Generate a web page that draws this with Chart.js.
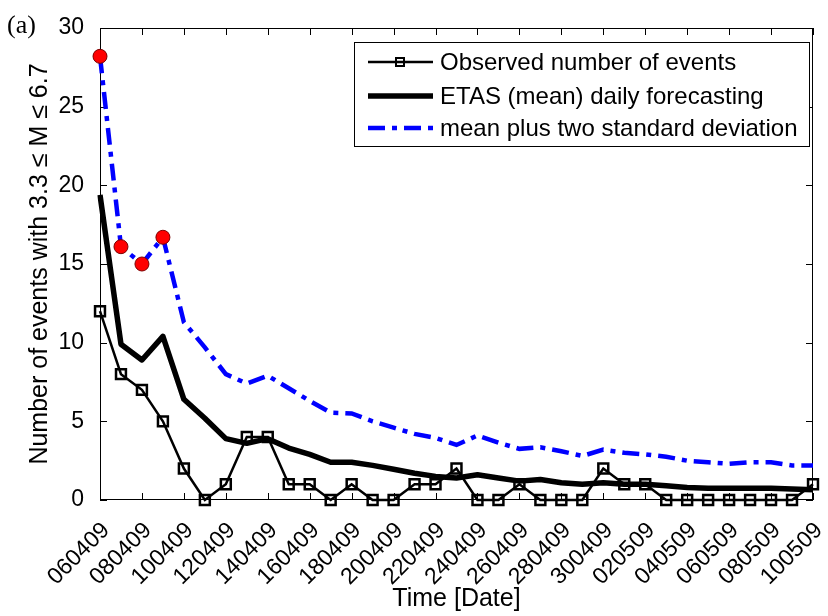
<!DOCTYPE html>
<html>
<head>
<meta charset="utf-8">
<script src="https://cdn.jsdelivr.net/npm/chart.js@4.4.0/dist/chart.umd.min.js"></script>
<style>
  html, body { margin: 0; padding: 0; background: #fff; }
  #wrap { width: 828px; height: 616px; position: relative; }
</style>
</head>
<body>
<div id="wrap"><canvas id="myChart" width="828" height="616"></canvas></div>
<script>
// dates ddmmyy, one per day
var dates = ['060409', '070409', '080409', '090409', '100409', '110409', '120409', '130409', '140409',
  '150409', '160409', '170409', '180409', '190409', '200409', '210409', '220409', '230409', '240409',
  '250409', '260409', '270409', '280409', '290409', '300409', '010509', '020509', '030509', '040509',
  '050509', '060509', '070509', '080509', '090509', '100509'];

var observed = [12, 8, 7, 5, 2, 0, 1, 4, 4, 1, 1, 0, 1, 0, 0, 1, 1, 2, 0, 0, 1, 0, 0, 0, 2, 1, 1,
  0, 0, 0, 0, 0, 0, 0, 1];

var etasMean = [19.4, 9.9, 8.9, 10.4, 6.4, 5.2, 3.9, 3.6, 3.9, 3.3, 2.9, 2.4, 2.4, 2.2, 1.95, 1.7,
  1.5, 1.4, 1.6, 1.4, 1.2, 1.3, 1.1, 1.0, 1.1, 1.0, 1.0, 0.9, 0.8, 0.75, 0.75, 0.75, 0.75, 0.7, 0.65];

var meanPlus2sd = [28.2, 16.1, 15.0, 16.7, 11.3, 9.7, 8.0, 7.4, 7.9, 7.1, 6.3, 5.55, 5.5, 5.0, 4.6,
  4.2, 3.95, 3.5, 4.1, 3.65, 3.25, 3.35, 3.1, 2.8, 3.2, 3.0, 2.9, 2.75, 2.5, 2.4, 2.3, 2.4, 2.4, 2.2, 2.2];

// days marked with red circles on the upper curve
var flaggedDays = [0, 1, 2, 3];

var yTicks = [0, 5, 10, 15, 20, 25, 30];

var FONT = '"Liberation Sans", Arial, Helvetica, sans-serif';

// box, inward ticks and legend, drawn the MATLAB way
var frame = {
  id: 'frame',
  beforeDatasetsDraw: function (chart) {
    var ctx = chart.ctx, a = chart.chartArea;
    var xs = chart.scales.x, ys = chart.scales.y;
    ctx.save();
    ctx.strokeStyle = '#000';
    ctx.lineWidth = 1;
    ctx.strokeRect(a.left + 0.5, a.top + 0.5, a.right - a.left - 1, a.bottom - a.top - 1);
    ctx.beginPath();
    for (var i = 0; i < dates.length; i += 2) {
      var px = Math.round(xs.getPixelForValue(i)) + 0.5;
      ctx.moveTo(px, a.bottom); ctx.lineTo(px, a.bottom - 7);
      ctx.moveTo(px, a.top); ctx.lineTo(px, a.top + 7);
    }
    yTicks.forEach(function (v) {
      var py = Math.round(ys.getPixelForValue(v)) + 0.5;
      ctx.moveTo(a.left, py); ctx.lineTo(a.left + 7, py);
      ctx.moveTo(a.right, py); ctx.lineTo(a.right - 7, py);
    });
    ctx.stroke();
    ctx.restore();
  },
  afterDraw: function (chart) {
    var ctx = chart.ctx;
    ctx.save();
    // panel letter
    ctx.fillStyle = '#000';
    ctx.font = '26px "Liberation Serif", "Times New Roman", serif';
    ctx.textBaseline = 'alphabetic';
    ctx.fillText('(a)', 7, 33);

    // legend
    var bx = 354, by = 42, bw = 455, bh = 104;
    ctx.fillStyle = '#fff';
    ctx.fillRect(bx, by, bw, bh);
    ctx.strokeStyle = '#000';
    ctx.lineWidth = 1;
    ctx.strokeRect(bx + 0.5, by + 0.5, bw, bh);
    var rows = [62, 96, 128];
    chart.data.datasets.forEach(function (ds, i) {
      var y = rows[i];
      ctx.save();
      ctx.strokeStyle = ds.borderColor;
      ctx.lineWidth = ds.borderWidth;
      ctx.setLineDash(ds.borderDash || []);
      ctx.beginPath();
      ctx.moveTo(368, y); ctx.lineTo(433, y);
      ctx.stroke();
      ctx.setLineDash([]);
      if (i === 0) {
        ctx.fillStyle = '#fff';
        ctx.lineWidth = 2;
        ctx.strokeRect(396, y - 4, 8, 8);
      }
      ctx.restore();
      ctx.fillStyle = '#000';
      ctx.font = '24px ' + FONT;
      ctx.textBaseline = 'middle';
      ctx.fillText(ds.label, 440, y + 1);
    });
    ctx.restore();
  }
};

var ctx = document.getElementById('myChart').getContext('2d');
var myChart = new Chart(ctx, {
  type: 'line',
  data: {
    labels: dates,
    datasets: [
      {
        label: 'Observed number of events',
        data: observed,
        borderColor: '#000',
        borderWidth: 2.5,
        pointStyle: 'rect',
        pointRadius: 7,
        pointBorderWidth: 2.5,
        pointBorderColor: '#000',
        pointBackgroundColor: 'rgba(0,0,0,0)',
        tension: 0,
        clip: false,
        order: 1
      },
      {
        label: 'ETAS (mean) daily forecasting',
        data: etasMean,
        borderColor: '#000',
        borderWidth: 5.5,
        pointRadius: 0,
        tension: 0,
        borderJoinStyle: 'round',
        order: 2
      },
      {
        label: 'mean plus two standard deviation',
        data: meanPlus2sd,
        borderColor: '#0000ff',
        borderWidth: 4.5,
        borderDash: [17, 7, 5, 7],
        pointRadius: function (c) { return flaggedDays.indexOf(c.dataIndex) >= 0 ? 7 : 0; },
        pointBackgroundColor: '#ff0000',
        pointBorderColor: '#7a0000',
        pointBorderWidth: 1,
        tension: 0,
        clip: false,
        order: 3
      }
    ]
  },
  options: {
    responsive: false,
    animation: false,
    layout: { padding: { top: 28, right: 15, left: 0, bottom: 0 } },
    plugins: {
      legend: { display: false },
      tooltip: { enabled: false }
    },
    scales: {
      x: {
        grid: { display: false },
        border: { display: false },
        afterFit: function (s) { s.height = 116; s.paddingLeft = 0; s.paddingRight = 0; },
        ticks: {
          autoSkip: false,
          maxRotation: 45,
          minRotation: 45,
          padding: 9,
          labelOffset: 6,
          color: '#000',
          font: { family: FONT, size: 23 },
          callback: function (v, i) { return i % 2 === 0 ? dates[i] : ''; }
        },
        title: {
          display: true,
          text: 'Time [Date]',
          color: '#000',
          font: { family: FONT, size: 25 },
          padding: { top: 0, bottom: 2 }
        }
      },
      y: {
        min: 0,
        max: 30,
        grid: { display: false },
        border: { display: false },
        afterFit: function (s) { s.width = 100; s.paddingTop = 0; s.paddingBottom = 0; },
        afterBuildTicks: function (s) { s.ticks = yTicks.map(function (v) { return { value: v }; }); },
        ticks: {
          padding: 8,
          color: '#000',
          font: { family: FONT, size: 23 }
        },
        title: {
          display: true,
          text: 'Number of events with 3.3 \u2264 M \u2264 6.7',
          color: '#000',
          font: { family: FONT, size: 25 },
          padding: { top: 25, bottom: 0 }
        }
      }
    }
  },
  plugins: [frame]
});
</script>
</body>
</html>
